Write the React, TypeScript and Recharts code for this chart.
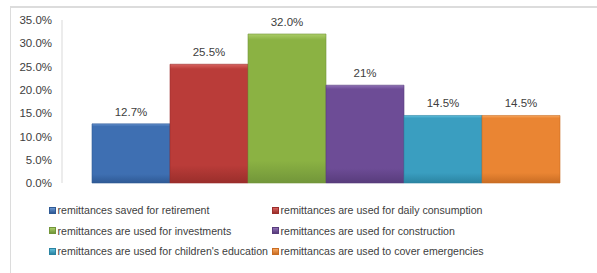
import React from "react";
import { BarChart, Bar, YAxis, XAxis, LabelList } from "recharts";

const seriesNames = [
  "remittances saved for retirement",
  "remittances are used for daily consumption",
  "remittances are used for investments",
  "remittances are used for construction",
  "remittances are used for children's education",
  "remittancas are used to cover emergencies",
];
const seriesValues = [12.7, 25.5, 32.0, 21, 14.5, 14.5];
const valueLabels = ["12.7%", "25.5%", "32.0%", "21%", "14.5%", "14.5%"];
const yTicks = [0, 5, 10, 15, 20, 25, 30, 35];
const colors = ["#3e6fb2", "#ba3c39", "#8bb243", "#6d4c96", "#3a9ec0", "#ea8533"];
const lightColors = ["#6a95d0", "#d8625f", "#abcd68", "#8f70b5", "#62bfdc", "#f8a860"];
const darkColors = ["#2f5a95", "#9a2e2b", "#72963a", "#583c7c", "#2b84a2", "#c96d24"];

const row: Record<string, number | string> = { name: "all" };
seriesValues.forEach((v, i) => {
  row["s" + i] = v;
});
const data = [row];

const FONT = "'Liberation Sans', Arial, sans-serif";

export default function App() {
  return (
    <div
      style={{
        position: "fixed",
        left: 0,
        top: 0,
        width: 597,
        height: 273,
        background: "#fff",
        overflow: "hidden",
        fontFamily: FONT,
      }}
    >
      <div
        style={{
          position: "absolute",
          left: 10,
          top: 6,
          width: 620,
          height: 300,
          borderTop: "2px solid #dcdcdc",
          borderLeft: "1px solid #dcdcdc",
        }}
      />
      <div style={{ position: "absolute", left: 0, top: 0 }}>
        <BarChart
          width={597}
          height={273}
          data={data}
          margin={{ top: 20, right: 5, bottom: 90, left: 12 }}
          barGap={0}
          barCategoryGap={30}
        >
          <defs>
            {colors.map((c, i) => (
              <linearGradient key={i} id={"g" + i} x1="0" y1="0" x2="0" y2="1">
                <stop offset="0%" stopColor={lightColors[i]} />
                <stop offset="4%" stopColor={colors[i]} />
                <stop offset="85%" stopColor={colors[i]} />
                <stop offset="100%" stopColor={darkColors[i]} />
              </linearGradient>
            ))}
          </defs>
          <XAxis dataKey="name" hide />
          <YAxis
            width={50}
            domain={[0, 35]}
            ticks={yTicks}
            interval={0}
            tickLine={false}
            tickMargin={4}
            axisLine={{ stroke: "#d9d9d9", strokeWidth: 1 }}
            tick={{ fontSize: 11.5, fill: "#404040", fontFamily: FONT }}
            tickFormatter={(v: number) => v.toFixed(1) + "%"}
          />
          {seriesValues.map((_, i) => (
            <Bar
              key={i}
              dataKey={"s" + i}
              name={seriesNames[i]}
              fill={`url(#g${i})`}
              stroke={darkColors[i]}
              strokeWidth={0.6}
              isAnimationActive={false}
            >
              <LabelList
                dataKey={"s" + i}
                position="top"
                offset={8}
                formatter={() => valueLabels[i]}
                style={{ fontSize: 11.5, fill: "#404040", fontFamily: FONT }}
              />
            </Bar>
          ))}
        </BarChart>
      </div>
      {seriesNames.map((n, i) => {
        const col = i % 2;
        const r = Math.floor(i / 2);
        return (
          <div
            key={i}
            style={{
              position: "absolute",
              left: col === 0 ? 49 : 272,
              top: 203 + r * 20.5,
              height: 14,
              display: "flex",
              alignItems: "center",
              whiteSpace: "nowrap",
              fontSize: 10.6,
              color: "#404040",
              fontFamily: FONT,
            }}
          >
            <span
              style={{
                display: "inline-block",
                width: 5,
                height: 5,
                marginRight: 1.5,
                background: `linear-gradient(${lightColors[i]}, ${darkColors[i]})`,
                border: `0.5px solid ${darkColors[i]}`,
              }}
            />
            <span>{n}</span>
          </div>
        );
      })}
    </div>
  );
}
